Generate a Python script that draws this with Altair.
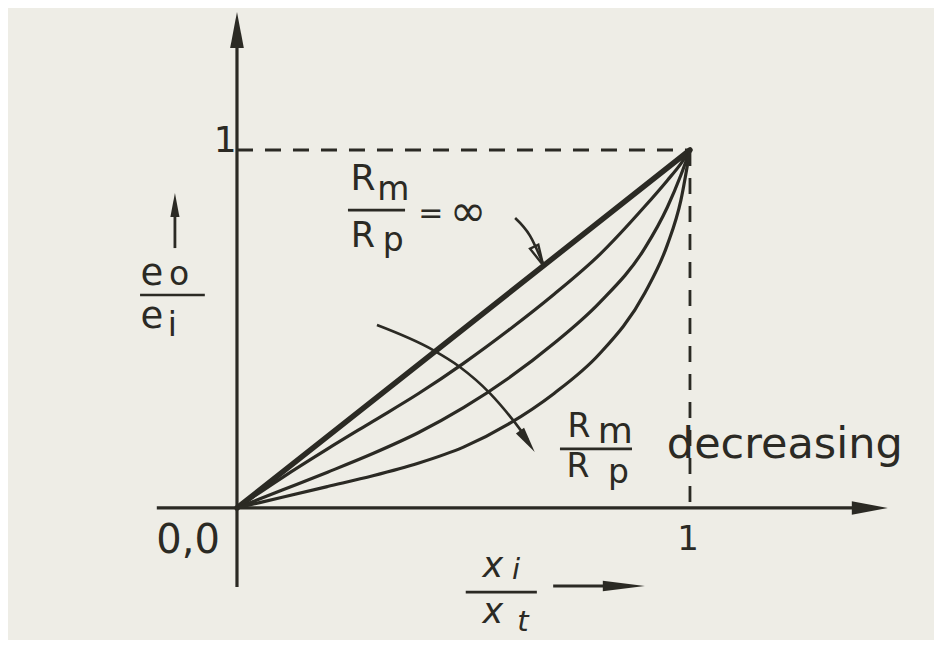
import altair as alt
import pandas as pd

# ---------------- data ----------------
# position along the potentiometer x_i / x_t
x_pos = [0, 0.1, 0.2, 0.3, 0.4, 0.5, 0.6, 0.7, 0.8, 0.9, 0.95, 0.98, 1.0]
# output ratio e_o / e_i for the three loaded curves (Rm/Rp decreasing)
curve_a = [0, 0.085, 0.165, 0.242, 0.319, 0.404, 0.497, 0.597, 0.707, 0.842, 0.915, 0.962, 1.0]
curve_b = [0, 0.05, 0.10, 0.152, 0.21, 0.28, 0.363, 0.46, 0.573, 0.725, 0.84, 0.93, 1.0]
curve_c = [0, 0.03, 0.06, 0.09, 0.125, 0.17, 0.235, 0.32, 0.43, 0.60, 0.735, 0.86, 1.0]
# ideal (Rm/Rp = infinity) straight line
ideal_x = [0, 1.0]
ideal_y = [0, 1.0]

# annotation arrows (data coordinates)
arrow1_x = [0.614, 0.647, 0.675]
arrow1_y = [0.810, 0.760, 0.684]
arrow2_x = [0.309, 0.433, 0.492, 0.558, 0.609, 0.642]
arrow2_y = [0.511, 0.441, 0.394, 0.321, 0.246, 0.190]

INK = "#2b2a24"
BG = "#eeede6"
FONT = "DejaVu Sans"

X0, X1 = -0.5055, 1.5387
Y0, Y1 = -0.3688, 1.3966
xs = alt.Scale(domain=[X0, X1], nice=False, zero=False)
ys = alt.Scale(domain=[Y0, Y1], nice=False, zero=False)


def ex(f="x"):
    return alt.X(f"{f}:Q", scale=xs, axis=None)


def ey(f="y"):
    return alt.Y(f"{f}:Q", scale=ys, axis=None)


# ---------------- curves ----------------
rows = []
for a, b in zip(ideal_x, ideal_y):
    rows.append({"s": "inf", "x": a, "y": b, "w": 5.5})
for name, vals in (("a", curve_a), ("b", curve_b), ("c", curve_c)):
    for xv, yv in zip(x_pos, vals):
        rows.append({"s": name, "x": xv, "y": yv, "w": 3.2})
curves_df = pd.DataFrame(rows)

curves = alt.Chart(curves_df).mark_line(
    color=INK, interpolate="monotone", strokeCap="round"
).encode(
    x=ex(), y=ey(), detail="s:N",
    strokeWidth=alt.StrokeWidth("w:Q", scale=None),
)

# annotation arrow shafts
arr_rows = []
for xv, yv in zip(arrow1_x, arrow1_y):
    arr_rows.append({"id": "a1", "x": xv, "y": yv})
for xv, yv in zip(arrow2_x, arrow2_y):
    arr_rows.append({"id": "a2", "x": xv, "y": yv})
arrows = alt.Chart(pd.DataFrame(arr_rows)).mark_line(
    color=INK, interpolate="monotone", strokeWidth=2.6
).encode(x=ex(), y=ey(), detail="id:N")

# ---------------- straight rules (axes, fraction bars, shafts) ----------------
rule_df = pd.DataFrame({
    "x":  [0, -0.177, -0.214, 0.245, 0.713, 0.505, -0.137, 0.698],
    "x2": [0, 1.40, -0.071, 0.371, 0.872, 0.662, -0.137, 0.86],
    "y":  [-0.221, 0, 0.595, 0.832, 0.165, -0.235, 0.726, -0.218],
    "y2": [1.33, 0, 0.595, 0.832, 0.165, -0.235, 0.84, -0.218],
    "w":  [3.2, 3.2, 2.6, 2.6, 2.6, 2.6, 2.8, 2.8],
})
rules = alt.Chart(rule_df).mark_rule(color=INK).encode(
    x=ex(), x2="x2:Q", y=ey(), y2="y2:Q",
    strokeWidth=alt.StrokeWidth("w:Q", scale=None),
)

dash_df = pd.DataFrame({"x": [0, 1], "x2": [1, 1], "y": [1, 1], "y2": [1, 0]})
dashes = alt.Chart(dash_df).mark_rule(
    color=INK, strokeWidth=2.8, strokeDash=[16, 12]
).encode(x=ex(), x2="x2:Q", y=ey(), y2="y2:Q")

# ---------------- arrowheads ----------------
HEAD = "M0,-1L0.38,1L-0.38,1Z"
THIN = "M0,-1L0.25,1L-0.25,1Z"
heads_df = pd.DataFrame({
    "x": [0, 1.397, -0.137, 0.641],
    "y": [1.335, 0, 0.846, 0.186],
    "a": [0, 90, 0, 145.5],
    "s": [1296, 1296, 576, 676],
})
heads = alt.Chart(heads_df).mark_point(
    shape=HEAD, filled=True, color=INK, opacity=1
).encode(
    x=ex(), y=ey(),
    angle=alt.Angle("a:Q", scale=None),
    size=alt.Size("s:Q", scale=None),
)
thin_df = pd.DataFrame({"x": [0.854], "y": [-0.218], "a": [90], "s": [1764]})
thin_heads = alt.Chart(thin_df).mark_point(
    shape=THIN, filled=True, color=INK, opacity=1
).encode(
    x=ex(), y=ey(),
    angle=alt.Angle("a:Q", scale=None),
    size=alt.Size("s:Q", scale=None),
)
open_df = pd.DataFrame({"x": [0.666], "y": [0.704], "a": [154], "s": [420]})
open_heads = alt.Chart(open_df).mark_point(
    shape="M0,-1L0.45,1L-0.45,1Z", filled=False, color=INK, strokeWidth=2.4, opacity=1
).encode(
    x=ex(), y=ey(),
    angle=alt.Angle("a:Q", scale=None),
    size=alt.Size("s:Q", scale=None),
)

# ---------------- text ----------------
txt_df = pd.DataFrame({
    "t": ["1", "1", "0,0",
          "e", "o", "e", "i",
          "R", "m", "R", "p", "=", "\u221e",
          "R", "m", "R", "p"],
    "x": [-0.026, 0.996, -0.108,
          -0.188, -0.128, -0.188, -0.143,
          0.278, 0.345, 0.278, 0.345, 0.428, 0.510,
          0.755, 0.835, 0.753, 0.842],
    "y": [0.994, -0.117, -0.126,
          0.622, 0.622, 0.503, 0.481,
          0.888, 0.860, 0.729, 0.718, 0.796, 0.789,
          0.198, 0.182, 0.087, 0.070],
    "fs": [36, 34, 40,
           37, 33, 37, 33,
           36, 33, 35, 33, 30, 44,
           33, 36, 33, 33],
})
texts = alt.Chart(txt_df).mark_text(
    font=FONT, color=INK, align="center", baseline="alphabetic"
).encode(
    x=ex(), y=ey(), text="t:N",
    size=alt.Size("fs:Q", scale=None),
)

ital_df = pd.DataFrame({
    "t": ["x", "i", "x", "t"],
    "x": [0.565, 0.616, 0.565, 0.631],
    "y": [-0.193, -0.199, -0.321, -0.343],
    "fs": [35, 29, 35, 29],
})
ital = alt.Chart(ital_df).mark_text(
    font=FONT, color=INK, align="center", baseline="alphabetic", fontStyle="italic"
).encode(
    x=ex(), y=ey(), text="t:N",
    size=alt.Size("fs:Q", scale=None),
)

word_df = pd.DataFrame({"t": ["decreasing"], "x": [0.949], "y": [0.140]})
word = alt.Chart(word_df).mark_text(
    font=FONT, color=INK, align="left", baseline="alphabetic", fontSize=43
).encode(x=ex(), y=ey(), text="t:N")

chart = alt.layer(
    dashes, rules, curves, arrows, heads, thin_heads, open_heads, texts, ital, word
).properties(
    width=926, height=632, padding=0, background=BG
).configure_view(stroke=None)

chart.save("out.html", embed_options={"renderer": "svg", "actions": False})
